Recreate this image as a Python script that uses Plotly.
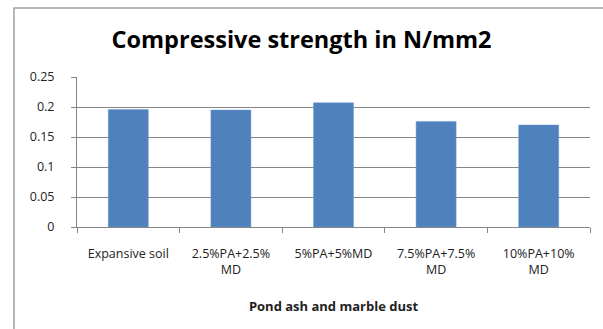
import plotly.graph_objects as go

categories = ["Expansive soil", "2.5%PA+2.5%<br>MD", "5%PA+5%MD", "7.5%PA+7.5%<br>MD", "10%PA+10%<br>MD"]
values = [0.196, 0.195, 0.207, 0.176, 0.170]
y_ticks = [0, 0.05, 0.1, 0.15, 0.2, 0.25]
y_tick_labels = ["0", "0.05", "0.1", "0.15", "0.2", "0.25"]

W, H = 603, 329
L, R, T, B = 77, 13, 77, 102
pw, ph = W - L - R, H - T - B

fig = go.Figure(go.Bar(
    x=categories, y=values, width=0.39,
    marker=dict(color="#4F81BD", line=dict(color="#6f9ad0", width=0.5)),
))

fig.update_layout(
    width=W, height=H,
    margin=dict(l=L, r=R, t=T, b=B, autoexpand=False),
    paper_bgcolor="white", plot_bgcolor="white",
    showlegend=False,
    font=dict(family="Open Sans, DejaVu Sans, sans-serif", size=12, color="#222"),
    title=dict(text="<b>Compressive strength in N/mm2</b>", x=0.5, xanchor="center",
               y=1 - 40 / H, yanchor="middle",
               font=dict(size=23.5, color="#000", family="Open Sans, sans-serif")),
    xaxis=dict(showline=True, linecolor="#868686", linewidth=1,
               ticks="outside", ticklen=5, tickcolor="#868686",
               tickson="boundaries", showgrid=False, automargin=False,
               ticklabelstandoff=15,
               tickfont=dict(size=12.5, color="#222"),
               title=dict(text="<b>Pond ash and marble dust</b>",
                          font=dict(size=13, color="#222"), standoff=24)),
    yaxis=dict(range=[0, 0.25], tickvals=y_ticks, ticktext=y_tick_labels,
               showline=True, linecolor="#868686", linewidth=1,
               ticks="outside", ticklen=5, tickcolor="#868686",
               showgrid=True, gridcolor="#868686", gridwidth=1,
               automargin=False, ticklabelstandoff=14,
               zeroline=False, tickfont=dict(size=12.5, color="#222")),
    shapes=[dict(type="rect", xref="paper", yref="paper",
                 x0=(14 - L) / pw, x1=(W + 10 - L) / pw,
                 y0=(T + ph - (H + 10)) / ph, y1=(T + ph - 8) / ph,
                 line=dict(color="#a0a0a0", width=1.5), fillcolor="rgba(0,0,0,0)",
                 layer="below")],
)

fig.write_html("out.html", config={"displayModeBar": False},
               post_script="document.body.style.margin='0';document.body.style.padding='0';")
